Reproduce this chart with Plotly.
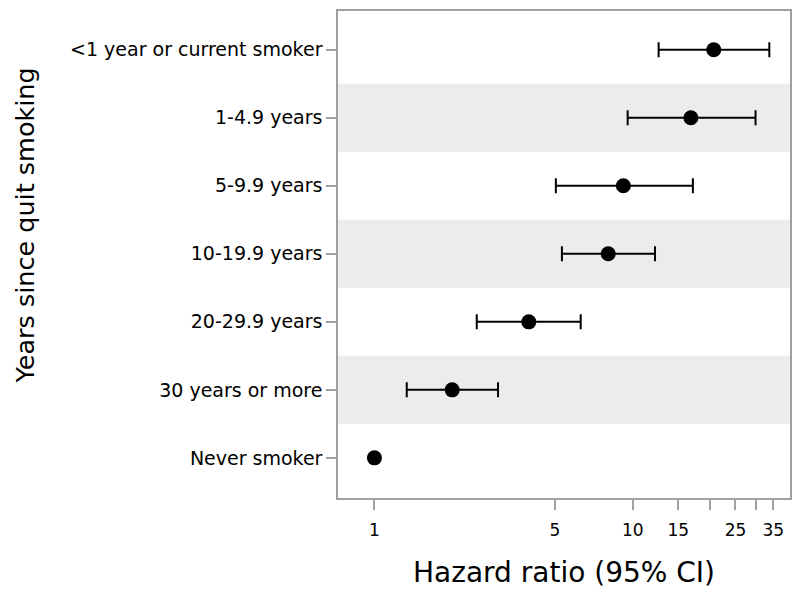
import plotly.graph_objects as go

categories = ["<1 year or current smoker", "1-4.9 years", "5-9.9 years",
              "10-19.9 years", "20-29.9 years", "30 years or more", "Never smoker"]
hr = [20.6, 16.8, 9.2, 8.04, 3.96, 2.0, 1.0]
ci_low = [12.6, 9.56, 5.04, 5.32, 2.49, 1.334, 1.0]
ci_high = [33.8, 29.9, 17.1, 12.2, 6.29, 3.01, 1.0]
x_tickvals = [1, 5, 10, 15, 20, 25, 30, 35]
x_ticktext = ["1", "5", "10", "15", "", "25", "", "35"]
shaded_rows = ["1-4.9 years", "10-19.9 years", "30 years or more"]
x_title = "Hazard ratio (95% CI)"
y_title = "Years since quit smoking"

n = len(categories)
ypos = [n - 1 - i for i in range(n)]
has_err = [lo != hi for lo, hi in zip(ci_low, ci_high)]
err_plus = [hi - h for h, hi in zip(hr, ci_high)]
err_minus = [h - lo for h, lo in zip(hr, ci_low)]

fig = go.Figure()

shapes = []
for c in shaded_rows:
    yc = ypos[categories.index(c)]
    shapes.append(dict(type="rect", xref="paper", yref="y", x0=0, x1=1,
                       y0=yc - 0.5, y1=yc + 0.5, fillcolor="#ececec",
                       line=dict(width=0), layer="below"))
shapes.append(dict(type="line", xref="x", yref="paper", x0=0, x1=0, y0=0, y1=1,
                   line=dict(color="#a0a0a0", width=1.5, dash="dash"), layer="below"))

fig.add_trace(go.Scatter(
    x=[h for h, e in zip(hr, has_err) if e],
    y=[y for y, e in zip(ypos, has_err) if e], mode="markers",
    marker=dict(size=15, color="black"),
    error_x=dict(type="data", symmetric=False,
                 array=[p for p, e in zip(err_plus, has_err) if e],
                 arrayminus=[m for m, e in zip(err_minus, has_err) if e],
                 color="black", thickness=2, width=7.5),
    showlegend=False))
fig.add_trace(go.Scatter(
    x=[h for h, e in zip(hr, has_err) if not e],
    y=[y for y, e in zip(ypos, has_err) if not e], mode="markers",
    marker=dict(size=15, color="black"), showlegend=False))

FONT = "DejaVu Sans"
fig.update_layout(
    width=790, height=586,
    margin=dict(l=330, r=8, t=1, b=96),
    plot_bgcolor="white", paper_bgcolor="white",
    font=dict(family=FONT, color="black", size=17),
    shapes=shapes,
    annotations=[
        dict(text=x_title, xref="paper", yref="paper", x=0.499, y=-0.153,
             xanchor="center", yanchor="middle", showarrow=False,
             font=dict(size=28)),
        dict(text=y_title, xref="paper", yref="paper", x=-0.692, y=0.56,
             xanchor="center", yanchor="middle", showarrow=False, textangle=-90,
             font=dict(size=25.5)),
    ],
    xaxis=dict(type="log", range=[-0.141, 1.609], tickvals=x_tickvals, ticktext=x_ticktext,
               ticks="outside", ticklen=10, tickcolor="#a0a0a0", tickwidth=1.5,
               showline=True, linecolor="#a0a0a0", linewidth=1.5, mirror=True,
               showgrid=False, zeroline=False, tickfont=dict(size=17),
               ticklabelstandoff=6),
    yaxis=dict(range=[-0.59, 6.57], tickvals=ypos, ticktext=categories,
               ticks="outside", ticklen=10, tickcolor="#a0a0a0", tickwidth=1.5,
               showline=True, linecolor="#a0a0a0", linewidth=1.5, mirror=True,
               showgrid=False, zeroline=False, tickfont=dict(size=19)),
)

fig.write_html("out.html")
